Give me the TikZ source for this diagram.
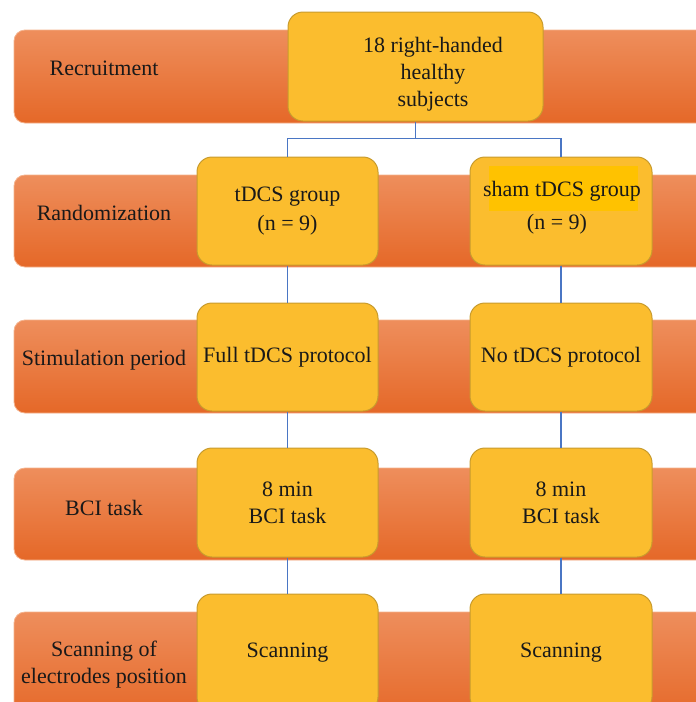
\documentclass[tikz,border=0pt]{standalone}
\usepackage{fontspec}
\setmainfont{Liberation Serif}
\newfontfamily\timesfont{Liberation Serif}
\definecolor{bandtop}{RGB}{238,142,92}
\definecolor{bandbot}{RGB}{229,104,40}
\definecolor{bandedge}{RGB}{244,178,140}
\definecolor{boxfill}{RGB}{251,189,46}
\definecolor{boxedge}{RGB}{200,155,45}
\definecolor{hilite}{RGB}{255,194,0}
\definecolor{linkblue}{RGB}{74,118,196}
\begin{document}
\begin{tikzpicture}[x=1pt,y=1pt,
  band/.style={rounded corners=11pt, top color=bandtop, bottom color=bandbot, draw=bandedge, line width=0.8pt},
  txt/.style={font=\timesfont\fontsize{22}{27}\selectfont, text=black!90, align=center, inner sep=0pt},
  box/.style={txt, draw=boxedge, fill=boxfill, rounded corners=15pt, line width=1pt, minimum width=181pt, minimum height=108pt},
  link/.style={draw=linkblue, line width=1.4pt}]
\useasboundingbox (0,0) rectangle (696,-702);
\clip (0,0) rectangle (696,-702);
% bands
\path[band] (14,-30) rectangle (730,-123);
\path[band] (14,-175) rectangle (730,-267);
\path[band] (14,-320) rectangle (730,-413);
\path[band] (14,-468) rectangle (730,-560);
\path[band] (14,-612) rectangle (730,-720);
% band labels
\node[txt] (lrec) at (104,-68) {Recruitment};
\node[txt] (lran) at (104,-213) {Randomization};
\node[txt] (lsti) at (104,-360) {Stimulation period};
\node[txt] (lbci) at (104,-508) {BCI task};
\node[txt] (lscn) at (104,-665) {Scanning of\\electrodes position};
% boxes
\node[box, minimum width=255pt, minimum height=109pt] (top) at (415.5,-66.5) {};
\node[txt] (toptext) at (433,-74.5) {18 right-handed\\healthy\\subjects};
\node[box] (tg) at (287.5,-211) {tDCS group\\[2pt](n = 9)};
\node[box, minimum width=182pt] (sg) at (561,-211) {};
\fill[hilite] (489,-166) rectangle (638,-211);
\node[txt] (sgtext) at (562,-207.5) {sham tDCS group\\[6pt]\hspace*{-10pt}(n = 9)};
\node[box] (fp) at (287.5,-357) {Full tDCS protocol};
\node[box, minimum width=182pt] (np) at (561,-357) {No tDCS protocol};
\node[box, minimum height=109pt] (b1) at (287.5,-502.5) {8 min\\BCI task};
\node[box, minimum width=182pt, minimum height=109pt] (b2) at (561,-502.5) {8 min\\BCI task};
\node[box, minimum height=118pt] (s1) at (287.5,-653) {Scanning};
\node[box, minimum width=182pt, minimum height=118pt] (s2) at (561,-653) {Scanning};
% connectors
\coordinate (split) at ([yshift=-17pt]top.south);
\draw[link] (top.south) -- (split);
\draw[link] (tg.north) |- (split) -| (sg.north);
\draw[link] (tg.south) -- (fp.north);
\draw[link] (sg.south) -- (np.north);
\draw[link] (fp.south) -- (b1.north);
\draw[link] (np.south) -- (b2.north);
\draw[link] (b1.south) -- (s1.north);
\draw[link] (b2.south) -- (s2.north);
\end{tikzpicture}
\end{document}
